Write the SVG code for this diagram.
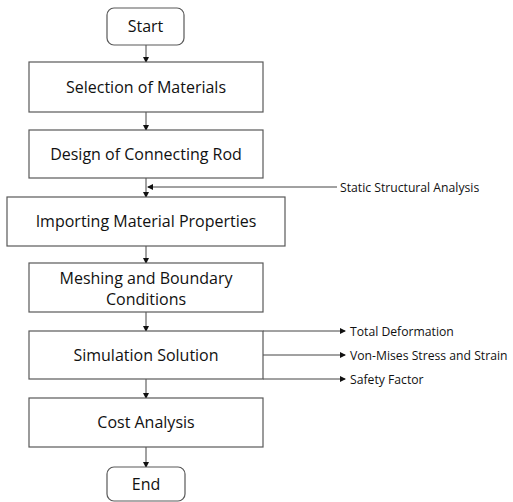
<svg xmlns="http://www.w3.org/2000/svg" width="513" height="502" viewBox="0 0 513 502">
<style>
.box{fill:#fff;stroke:#595959;stroke-width:1.2}
.t{font-family:"Open Sans","Liberation Sans",sans-serif;font-size:16px;fill:#111;text-anchor:middle}
.s{font-family:"Open Sans","Liberation Sans",sans-serif;font-size:12.2px;fill:#111}
.c{stroke:#444;stroke-width:1;fill:none;marker-end:url(#ah)}
</style>
<defs>
<marker id="ah" markerWidth="6" markerHeight="6" refX="5" refY="3" orient="auto" markerUnits="userSpaceOnUse">
<path d="M0,0 L6,3 L0,6 Z" fill="#111"/>
</marker>
</defs>
<rect width="513" height="502" fill="#fff"/>
<g id="connectors">
<line class="c" x1="146" y1="45" x2="146" y2="62"/>
<line class="c" x1="146" y1="112" x2="146" y2="130"/>
<line class="c" x1="146" y1="178" x2="146" y2="197"/>
<line class="c" x1="337" y1="187" x2="148" y2="187"/>
<line class="c" x1="146" y1="246" x2="146" y2="263"/>
<line class="c" x1="146" y1="312" x2="146" y2="331"/>
<line class="c" x1="263" y1="331" x2="345" y2="331"/>
<line class="c" x1="263" y1="355" x2="345" y2="355"/>
<line class="c" x1="263" y1="379" x2="345" y2="379"/>
<line class="c" x1="146" y1="379" x2="146" y2="398"/>
<line class="c" x1="146" y1="447" x2="146" y2="467"/>
</g>
<g id="start"><rect class="box" x="107" y="8" width="77" height="37" rx="7"/><text class="t" x="145.5" y="32">Start</text></g>
<g id="selection"><rect class="box" x="29" y="62" width="234" height="50"/><text class="t" x="146" y="93">Selection of Materials</text></g>
<g id="design"><rect class="box" x="29" y="130" width="234" height="48"/><text class="t" x="146" y="160">Design of Connecting Rod</text></g>
<g id="static"><text class="s" x="340" y="191.5">Static Structural Analysis</text></g>
<g id="importing"><rect class="box" x="7" y="197" width="278" height="49"/><text class="t" x="146" y="227">Importing Material Properties</text></g>
<g id="meshing"><rect class="box" x="29" y="263" width="234" height="49"/><text class="t" x="146" y="284">Meshing and Boundary</text><text class="t" x="146" y="305">Conditions</text></g>
<g id="simulation"><rect class="box" x="29" y="331" width="234" height="48"/><text class="t" x="146" y="361">Simulation Solution</text></g>
<g id="total"><text class="s" x="350" y="335.5">Total Deformation</text></g>
<g id="vonmises"><text class="s" x="350" y="359.5">Von-Mises Stress and Strain</text></g>
<g id="safety"><text class="s" x="350" y="383.5">Safety Factor</text></g>
<g id="cost"><rect class="box" x="29" y="398" width="234" height="49"/><text class="t" x="146" y="428">Cost Analysis</text></g>
<g id="end"><rect class="box" x="107" y="467" width="78" height="34" rx="7"/><text class="t" x="146" y="490">End</text></g>
</svg>
